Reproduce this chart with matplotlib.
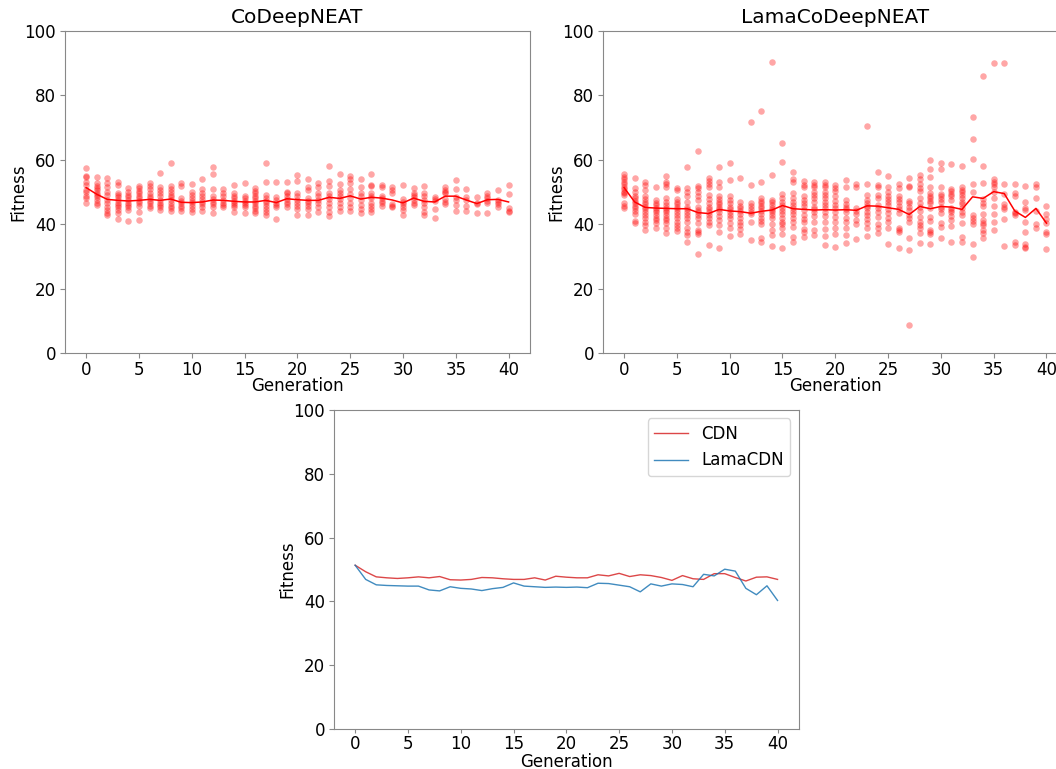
import numpy as np
import matplotlib
matplotlib.use("Agg")
import matplotlib.pyplot as plt

# -----------------------------------
# Fitness per individual, one list per generation
# -----------------------------------

generations = list(range(41))

cdn_points = [
    [57.4, 55.0, 54.6, 53.2, 52.2, 50.6, 50.1, 48.6, 48.0, 46.7],
    [54.8, 52.7, 51.9, 51.1, 50.6, 49.8, 49.1, 48.3, 47.5, 46.7, 46.0],
    [54.2, 52.7, 51.7, 50.1, 49.1, 47.5, 46.5, 45.4, 44.4, 43.6, 42.9],
    [53.2, 52.2, 49.8, 49.1, 48.3, 47.5, 46.7, 46.0, 45.2, 44.4, 43.4, 41.5],
    [51.1, 50.1, 49.1, 48.3, 47.5, 46.7, 46.0, 45.2, 44.4, 41.0],
    [51.9, 51.1, 50.4, 49.6, 48.8, 48.0, 47.3, 46.5, 45.6, 43.9, 41.3],
    [52.7, 51.9, 50.8, 49.8, 48.8, 48.0, 47.3, 46.5, 45.6, 44.9],
    [56.0, 51.5, 50.6, 49.6, 48.6, 47.5, 46.7, 46.0, 45.2, 44.4],
    [59.1, 51.9, 50.8, 50.1, 49.1, 48.3, 47.5, 46.7, 45.6, 44.9, 44.2],
    [52.7, 51.9, 48.0, 47.3, 46.5, 45.6, 44.9, 44.2],
    [52.4, 50.1, 49.1, 48.0, 47.3, 46.5, 45.6, 44.6, 43.9],
    [53.9, 50.8, 49.8, 48.6, 47.7, 47.0, 46.3, 45.2, 44.2],
    [57.7, 55.6, 50.8, 48.6, 47.7, 47.0, 46.3, 45.2, 43.6],
    [50.8, 49.8, 48.6, 47.5, 46.7, 46.0, 45.2],
    [52.2, 49.6, 48.8, 48.0, 47.3, 46.7, 46.0, 45.2, 43.9],
    [52.7, 48.8, 48.0, 47.3, 46.7, 46.0, 45.2, 43.4],
    [51.1, 50.4, 49.6, 48.8, 48.0, 47.3, 46.5, 45.6, 44.9, 44.2, 43.4],
    [59.1, 53.0, 49.1, 48.0, 47.3, 46.5, 45.6, 44.6, 43.9, 42.9],
    [53.2, 48.3, 47.5, 46.7, 46.0, 45.2, 41.5],
    [53.2, 50.1, 49.6, 48.6, 47.7, 47.0, 46.3, 45.4],
    [55.3, 53.5, 49.6, 48.6, 47.5, 46.5, 45.6, 44.6, 42.9],
    [54.1, 51.5, 50.6, 48.0, 47.3, 46.5, 45.6, 44.6, 42.9],
    [52.7, 51.7, 49.8, 48.6, 47.5, 46.7, 45.4, 43.9],
    [58.1, 53.5, 51.9, 49.8, 48.8, 47.7, 46.5, 45.2, 43.9, 42.5],
    [55.5, 52.5, 50.6, 49.8, 48.8, 47.7, 46.7, 45.4, 44.2],
    [55.1, 54.0, 52.7, 50.8, 49.4, 48.0, 46.5, 45.2, 44.2],
    [53.9, 51.5, 49.8, 48.6, 47.5, 46.0, 44.6, 43.4],
    [55.5, 52.2, 51.9, 49.6, 48.6, 48.0, 46.5, 45.6, 44.6, 43.8],
    [52.2, 51.5, 48.8, 48.0, 47.3, 46.5, 45.6],
    [51.5, 50.6, 49.6, 46.3, 45.6, 45.2],
    [52.2, 47.7, 47.0, 46.3, 45.2, 44.4, 42.9],
    [51.1, 49.8, 49.1, 48.3, 47.5, 46.7, 46.0],
    [51.9, 49.8, 48.6, 47.5, 46.7, 45.2, 43.9, 42.9],
    [48.3, 47.7, 47.3, 44.6, 41.8],
    [51.5, 50.6, 50.1, 49.6, 47.7, 47.0, 46.3],
    [53.7, 50.8, 48.3, 47.5, 46.0, 44.2],
    [50.8, 48.3, 47.5, 45.6, 44.2],
    [48.3, 46.7, 46.3, 43.4],
    [49.6, 48.8, 48.0, 47.3, 46.5, 43.4],
    [50.6, 47.5, 47.0, 46.3, 45.4],
    [52.2, 49.3, 44.9, 44.2, 43.8],
]

lama_points = [
    [55.5, 54.8, 54.0, 53.2, 52.4, 51.7, 50.9, 50.1, 49.6, 49.1, 46.5, 45.8, 44.9],
    [54.2, 51.1, 50.1, 48.9, 48.0, 47.2, 46.5, 45.8, 44.9, 44.1, 43.1, 41.0, 40.3],
    [53.2, 52.2, 50.6, 48.6, 47.8, 47.0, 46.2, 45.4, 44.7, 43.9, 42.9, 41.8, 40.8, 39.6, 38.2],
    [51.7, 47.5, 46.5, 46.0, 45.1, 44.4, 43.7, 42.9, 42.0, 41.3, 40.3, 38.7],
    [55.1, 53.2, 52.4, 51.7, 48.0, 47.0, 46.0, 45.1, 44.4, 43.7, 42.9, 42.0, 41.3, 40.3, 38.7, 37.2],
    [51.1, 50.6, 47.8, 47.0, 46.2, 45.4, 44.7, 43.9, 42.9, 41.8, 40.8, 39.8, 38.7, 37.9],
    [57.9, 51.1, 50.1, 48.9, 47.0, 45.4, 44.7, 43.9, 42.9, 41.8, 40.8, 38.7, 37.7, 36.6, 34.4],
    [62.8, 52.0, 51.1, 49.9, 48.6, 47.5, 45.4, 44.4, 43.7, 42.9, 41.8, 40.3, 38.2, 37.7, 36.9, 30.6],
    [54.2, 53.4, 52.4, 51.7, 49.1, 47.8, 46.5, 45.4, 44.7, 43.9, 42.9, 41.8, 40.6, 39.8, 33.5],
    [57.7, 53.2, 51.7, 48.6, 47.8, 47.0, 46.2, 45.4, 44.7, 43.7, 42.6, 41.3, 39.8, 37.5, 32.5],
    [58.9, 53.7, 48.6, 47.5, 46.5, 45.4, 44.7, 43.9, 42.9, 41.8, 40.3, 38.7, 36.4],
    [54.2, 46.8, 45.8, 44.9, 44.1, 43.1, 42.0, 40.8, 39.6, 38.5, 36.9],
    [71.7, 52.2, 46.5, 45.8, 44.7, 43.9, 43.1, 40.8, 35.1],
    [75.2, 53.0, 48.0, 47.2, 46.5, 45.8, 44.9, 44.1, 43.1, 42.0, 41.0, 40.0, 35.6, 34.6],
    [90.4, 55.3, 47.5, 46.8, 46.0, 45.1, 44.4, 43.7, 42.9, 42.0, 40.0, 38.2, 36.6, 33.3],
    [65.1, 59.2, 49.3, 48.2, 47.0, 46.0, 44.9, 44.1, 43.1, 42.0, 40.8, 40.0, 38.9, 36.9, 32.7],
    [56.1, 54.0, 53.2, 49.6, 48.0, 47.0, 46.0, 45.1, 44.1, 43.1, 42.0, 40.6, 39.2, 36.1, 34.6],
    [53.4, 52.2, 51.4, 48.6, 47.5, 46.5, 45.8, 44.4, 42.9, 41.6, 40.6, 38.5, 37.7, 36.1],
    [53.0, 52.2, 51.7, 49.9, 49.1, 48.0, 47.0, 45.4, 44.7, 43.7, 42.6, 40.8, 38.2, 36.6],
    [53.2, 52.2, 51.7, 50.1, 49.1, 48.0, 47.0, 46.0, 44.9, 43.7, 42.6, 40.8, 38.5, 36.4, 33.5],
    [52.2, 51.1, 50.3, 48.6, 47.2, 46.0, 44.9, 43.7, 42.3, 40.6, 38.7, 36.9, 33.0],
    [53.7, 51.7, 47.5, 46.2, 45.4, 44.7, 43.7, 42.0, 40.6, 38.7, 36.6, 34.1],
    [52.4, 51.4, 45.1, 44.1, 43.1, 41.3, 40.0, 35.4],
    [70.5, 52.4, 49.1, 47.5, 46.5, 45.8, 44.9, 43.9, 42.9, 41.6, 40.3, 38.7, 36.4],
    [56.1, 52.2, 51.4, 49.1, 48.0, 46.0, 44.9, 43.7, 42.3, 40.0, 38.9, 37.2],
    [55.1, 51.7, 49.9, 48.9, 47.8, 47.0, 46.0, 44.7, 43.4, 42.0, 40.6, 38.7, 33.7],
    [52.4, 51.1, 48.6, 47.8, 47.0, 45.8, 44.7, 43.4, 38.9, 38.2, 37.7, 32.7],
    [54.2, 52.0, 51.7, 47.2, 46.5, 45.4, 44.4, 42.9, 41.8, 40.6, 35.6, 32.0, 8.7],
    [55.3, 54.0, 52.4, 51.1, 50.3, 48.0, 46.5, 45.4, 44.1, 42.3, 40.6, 39.8, 38.9, 37.2, 34.1],
    [59.9, 57.1, 54.5, 51.7, 49.6, 48.9, 48.0, 47.2, 46.5, 44.9, 42.3, 41.0, 38.2, 37.5, 36.9, 33.7],
    [58.9, 57.1, 51.7, 49.3, 48.6, 47.8, 47.0, 45.4, 44.7, 43.4, 40.3, 39.2, 35.6],
    [58.6, 50.9, 50.3, 49.3, 48.6, 47.5, 45.1, 44.4, 43.7, 42.6, 41.3, 39.5, 34.6],
    [58.2, 51.4, 50.6, 49.9, 49.1, 48.0, 47.0, 46.2, 45.1, 43.7, 42.9, 40.3, 36.1, 34.6],
    [73.2, 66.4, 60.1, 52.4, 49.9, 42.9, 42.0, 41.0, 40.0, 33.7, 29.9],
    [86.0, 58.1, 52.9, 47.8, 46.5, 45.8, 43.1, 41.3, 40.3, 39.8, 38.2, 37.2, 35.8],
    [90.2, 54.0, 53.2, 52.4, 51.7, 49.9, 48.0, 45.8, 43.1, 40.6, 38.2],
    [90.2, 52.4, 49.3, 46.2, 45.4, 44.7, 41.6, 33.3],
    [52.4, 49.6, 48.6, 43.9, 43.4, 42.9, 34.6, 33.5],
    [52.0, 47.0, 45.1, 44.4, 40.8, 37.5, 33.7, 33.0, 32.5],
    [52.4, 51.7, 48.0, 44.1, 40.0, 38.9],
    [45.7, 43.1, 41.5, 40.5, 37.6, 37.0, 32.4],
]

# Mean fitness per generation
cdn_mean = [51.35, 49.3, 47.7, 47.4, 47.2, 47.4, 47.7, 47.4, 47.8, 46.8,
            46.7, 46.9, 47.5, 47.4, 47.1, 46.9, 46.9, 47.4, 46.7, 47.9,
            47.6, 47.4, 47.4, 48.35, 48.0, 48.8, 47.8, 48.35, 48.1, 47.5,
            46.6, 48.1, 47.1, 46.9, 48.7, 48.7, 47.5, 46.4, 47.6, 47.7, 46.9]

lama_mean = [51.35, 46.9, 45.2, 45.0, 44.9, 44.8, 44.8, 43.6, 43.3, 44.6,
             44.1, 43.9, 43.4, 44.0, 44.4, 45.8, 44.8, 44.6, 44.4, 44.5,
             44.4, 44.5, 44.3, 45.7, 45.6, 45.1, 44.6, 43.0, 45.5, 44.8,
             45.5, 45.3, 44.6, 48.5, 48.0, 50.1, 49.5, 44.1, 42.1, 44.9, 40.3]

plt.rcParams['font.size'] = 12
plt.rcParams['xtick.major.pad'] = 2
plt.rcParams['ytick.major.pad'] = 3

fig = plt.figure(figsize=(10.56, 7.69), dpi=100)

ax1 = fig.add_axes([0.0616, 0.541, 0.440, 0.4187])
ax2 = fig.add_axes([0.571, 0.541, 0.440, 0.4187])
ax3 = fig.add_axes([0.3163, 0.052, 0.440, 0.4148])


def label_axes(ax, xpad=-1):
    ax.set_xlabel("Generation", labelpad=xpad)
    ax.set_ylabel("Fitness", labelpad=-2)
    ax.set_ylim(0, 100)
    ax.set_xlim(-2, 42)
    ax.set_xticks(range(0, 41, 5))


def scatter_generations(ax, points, mean, title):
    for g, vals in zip(generations, points):
        ax.scatter([g] * len(vals), vals, color='red', alpha=0.35,
                   s=22, linewidths=0)
    ax.plot(generations, mean, color='red', linewidth=1.1)
    ax.set_title(title, fontsize=14.5)
    label_axes(ax)


scatter_generations(ax1, cdn_points, cdn_mean, "CoDeepNEAT")
scatter_generations(ax2, lama_points, lama_mean, "LamaCoDeepNEAT")

# Means of both runs together
ax3.plot(generations, cdn_mean, color='#d62728', linewidth=1, alpha=0.85, label="CDN")
ax3.plot(generations, lama_mean, color='#1f77b4', linewidth=1, alpha=0.85, label="LamaCDN")
label_axes(ax3, xpad=0)
ax3.tick_params(axis='x', pad=1, length=3)
ax3.legend(loc='upper right')

for ax in (ax1, ax2, ax3):
    for sp in ax.spines.values():
        sp.set_color('#888888')
    ax.tick_params(color='#888888')

fig.savefig("out.png", dpi=100)
